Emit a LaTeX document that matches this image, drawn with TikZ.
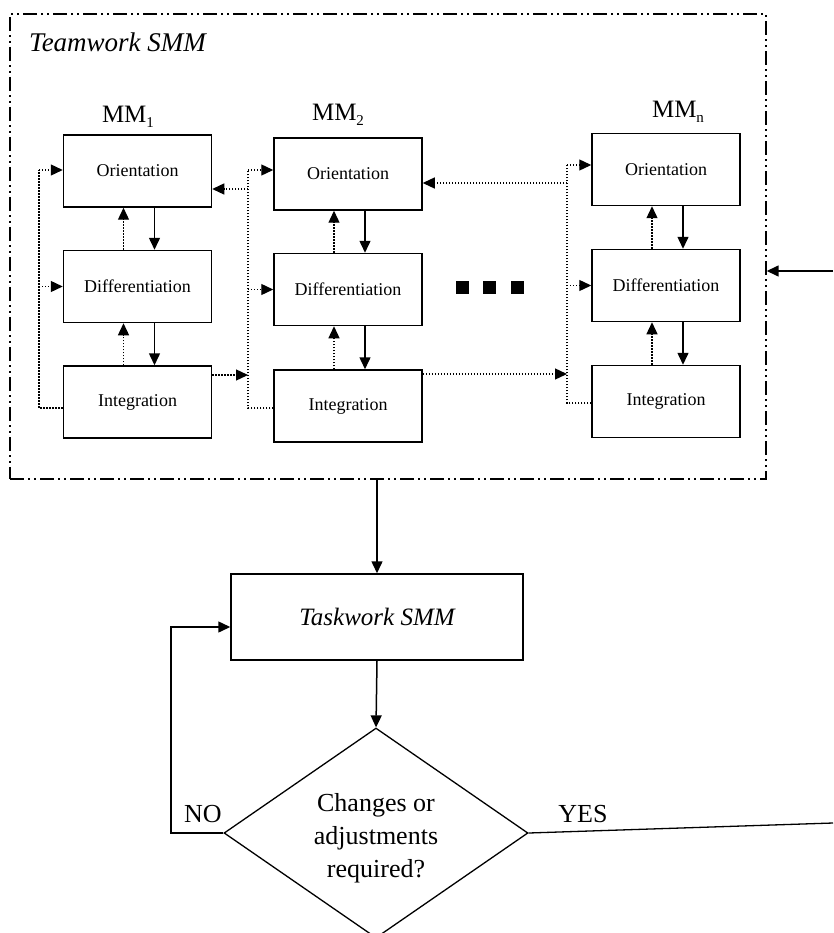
\documentclass[tikz,border=0pt]{standalone}
\usepackage{fontspec}
\setmainfont{Liberation Serif}
\usetikzlibrary{arrows.meta,shapes.geometric}
\begin{document}
\begin{tikzpicture}[x=1pt,y=-1pt,
  mmbox/.style={draw, line width=1.5pt, minimum width=148pt, minimum height=72pt, inner sep=0pt, font=\fontsize{18}{20}\selectfont},
  solidarr/.style={line width=1.5pt, -{Triangle[length=12pt,width=11pt]}},
  dotarr/.style={line width=1.3pt, dash pattern=on 1.3pt off 1.7pt, -{Triangle[length=12pt,width=11pt]}},
  dotline/.style={line width=1.3pt, dash pattern=on 1.3pt off 1.7pt},
  frame/.style={draw, line width=1.4pt, dash pattern=on 14pt off 4pt on 2pt off 4pt on 2pt off 4pt, inner sep=0pt},
  lbl/.style={font=\fontsize{26}{30}\selectfont, inner sep=0pt},
  mmlbl/.style={anchor=base, inner sep=0pt, font=\fontsize{25}{28}\selectfont},
  sq/.style={fill, minimum size=13pt, inner sep=0pt}
]
\useasboundingbox (0,0) rectangle (833,933);

% frame
\node[frame, minimum width=756pt, minimum height=465pt] (team) at (388,246.5) {};
\node[lbl, font=\fontsize{27}{30}\selectfont\itshape, anchor=base west] (teamlbl) at (29,52) {Teamwork SMM};

% labels
\node[mmlbl] (mm1) at (128,123) {MM\raisebox{-5pt}{\fontsize{15}{15}\selectfont 1}};
\node[mmlbl] (mm2) at (338,121) {MM\raisebox{-5pt}{\fontsize{15}{15}\selectfont 2}};
\node[mmlbl] (mmn) at (678,118) {MM\raisebox{-5pt}{\fontsize{15}{15}\selectfont n}};

% column 1
\node[mmbox] (o1) at (137.5,171) {Orientation};
\node[mmbox] (d1) at (137.5,286.5) {Differentiation};
\node[mmbox] (i1) at (137.5,402) {Integration};
% column 2
\node[mmbox] (o2) at (348,174) {Orientation};
\node[mmbox] (d2) at (348,289.5) {Differentiation};
\node[mmbox] (i2) at (348,406) {Integration};
% column n
\node[mmbox] (oN) at (666,169.5) {Orientation};
\node[mmbox] (dN) at (666,285.5) {Differentiation};
\node[mmbox] (iN) at (666,401.5) {Integration};

% ellipsis squares
\node[sq] (sq1) at (462,287) {};
\node[sq] (sq2) at (489,287) {};
\node[sq] (sq3) at (517,287) {};

% vertical arrows inside columns
\foreach \a/\b in {o1/d1,d1/i1,o2/d2,d2/i2,oN/dN,dN/iN}{
  \draw[solidarr] ([xshift=17pt]\a.south) -- ([xshift=17pt]\b.north);
  \draw[dotarr] ([xshift=-14pt]\b.north) -- ([xshift=-14pt]\a.south);
}

% loop column 1
\coordinate (c1b) at (39,408);
\coordinate (c1t) at (39,170);
\draw[dotline] (i1.west |- c1b) -- (c1b) -- (c1t);
\draw[dotarr] (c1t) -- (o1.west |- c1t);
\draw[dotarr] (c1b |- d1.west) -- (d1.west);

% loop column 2
\coordinate (c2b) at (248,408);
\coordinate (c2t) at (248,170);
\coordinate (c2o) at (248,189);
\draw[dotline] (i2.west |- c2b) -- (c2b) -- (c2t);
\draw[dotarr] (c2t) -- (o2.west |- c2t);
\draw[dotarr] (c2b |- d2.west) -- (d2.west);
\draw[dotarr] (c2o) -- (o1.east |- c2o);
\coordinate (a12) at ([yshift=27pt]i1.east);
\draw[dotarr] (a12) -- (a12 -| c2b);

% loop column n
\coordinate (cnb) at (567,403);
\coordinate (cnt) at (567,165);
\coordinate (cno) at (567,183);
\draw[dotline] (iN.west |- cnb) -- (cnb) -- (cnt);
\draw[dotarr] (cnt) -- (oN.west |- cnt);
\draw[dotarr] (cnb |- dN.west) -- (dN.west);
\draw[dotarr] (cno) -- (o2.east |- cno);
\coordinate (a2n) at ([yshift=32pt]i2.east);
\draw[dotarr] (a2n) -- (a2n -| cnb);

% incoming arrow on the right
\coordinate (rin) at (833,271);
\draw[solidarr] (rin) -- (rin -| team.east);

% taskwork and decision
\node[draw, line width=1.5pt, minimum width=292pt, minimum height=86pt, inner sep=0pt, font=\fontsize{25}{28}\selectfont\itshape] (task) at (377,617) {Taskwork SMM};
\draw[solidarr] (task.north |- team.south) -- (task.north);

\node[diamond, draw, line width=1.3pt, minimum width=304pt, minimum height=210pt, inner sep=0pt] (dec) at (376,833) {};
\node[align=center, inner sep=0pt, font=\fontsize{26}{33}\selectfont] (dectxt) at (376,838) {Changes or\\adjustments\\required?};
\draw[solidarr] (task.south) -- (dec.north);

\node[lbl] (nolbl) at (203,814) {NO};
\node[lbl] (yeslbl) at (583,814) {YES};

\coordinate (nob) at (171,833);
\coordinate (not) at (171,627);
\draw[solidarr] (dec.west) -- (nob) -- (not) -- (task.west |- not);

\coordinate (yesend) at (833,823);
\draw[line width=1.3pt] (dec.east) -- (yesend);
\end{tikzpicture}
\end{document}
